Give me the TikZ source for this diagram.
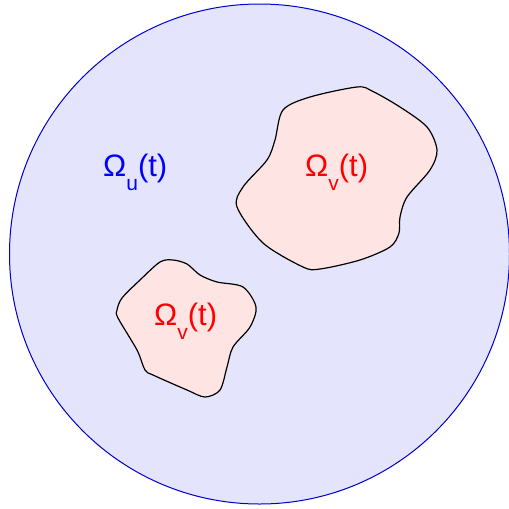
\documentclass[tikz,border=0pt]{standalone}
\usepackage{fontspec}
\setmainfont{Liberation Sans}
\definecolor{outerfill}{HTML}{E4E4FC}
\definecolor{outerline}{HTML}{0000CC}
\definecolor{blobfill}{HTML}{FFE4E4}
\newcommand{\omlabel}[1]{{\fontsize{31}{36}\selectfont Ω\raisebox{-0.47em}{\fontsize{21}{25}\selectfont #1}(t)}}
\begin{document}
\begin{tikzpicture}[x=1pt,y=-1pt,
  blob/.style={draw=black,line width=1.2pt,fill=blobfill},
  lab/.style={anchor=base west,inner sep=0pt}]
\useasboundingbox (0,0) rectangle (509,509);
\draw[draw=outerline,line width=1pt,fill=outerfill] (259.5,254) circle[radius=250pt];
\draw[blob] plot[smooth cycle,tension=0.5] coordinates {
  (275,140) (283,110) (310,97) (357,87) (372,91) (400,107) (427,127)
  (437,150) (430,170) (407,197) (400,217) (399,233) (390,247) (360,260)
  (320,269) (303,267) (263,243) (237,207) (243,187) (267,160)};
\draw[blob] plot[smooth cycle,tension=0.5] coordinates {
  (173,260) (187,264) (200,275) (217,282) (243,287) (256,307) (250,327)
  (233,347) (227,367) (220,390) (205,397) (187,390) (153,375) (145,370)
  (137,350) (118,318) (117,310) (122,298) (140,280) (160,262)};
\node[lab,text=blue] (ou) at (103,176) {\omlabel{u}};
\node[lab,text=red] (ov1) at (305,176) {\omlabel{v}};
\node[lab,text=red] (ov2) at (154,325) {\omlabel{v}};
\end{tikzpicture}
\end{document}
